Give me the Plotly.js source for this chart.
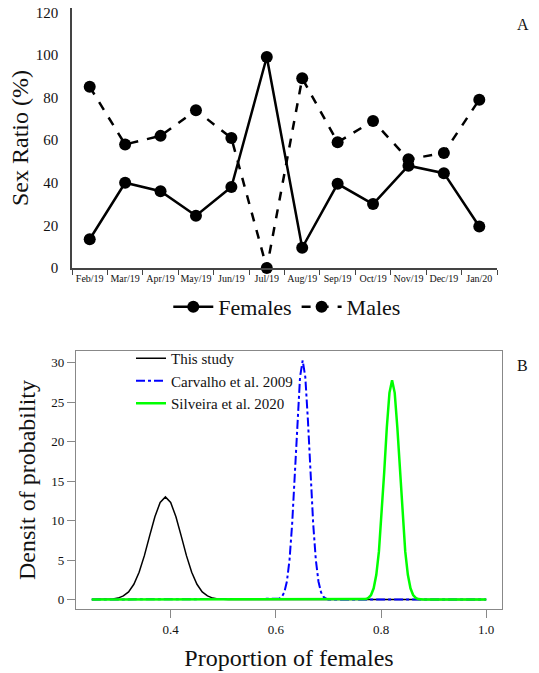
<!DOCTYPE html>
<html>
<head>
<meta charset="utf-8">
<script src="https://cdn.plot.ly/plotly-3.0.1.min.js"></script>
<style>html,body{margin:0;padding:0;background:#fff;}#chart{width:539px;height:673px;}</style>
</head>
<body>
<div id="chart"></div>
<script>
// Panel A data
var months = ['Feb/19','Mar/19','Apr/19','May/19','Jun/19','Jul/19','Aug/19','Sep/19','Oct/19','Nov/19','Dec/19','Jan/20'];
var females = [13.5, 40, 36, 24.5, 38, 99, 9.5, 39.5, 30, 48, 44.5, 19.5];
var males = [85, 58, 62, 74, 61, 0, 89, 59, 69, 51, 54, 79];

// Panel B data (density curves)
var studyX = [0.25,0.27,0.29,0.30,0.31,0.32,0.33,0.34,0.35,0.36,0.37,0.38,0.39,0.40,0.41,0.42,0.43,0.44,0.45,0.46,0.47,0.48,0.49,0.51,1.00];
var studyY = [0,0,0.06,0.18,0.47,0.97,1.93,3.45,5.56,8.07,10.5,12.3,13.0,12.3,10.5,8.07,5.56,3.45,1.93,0.97,0.47,0.18,0.06,0,0];
var carvX = [0.25,0.60,0.606,0.611,0.616,0.621,0.626,0.631,0.636,0.641,0.646,0.651,0.656,0.661,0.666,0.671,0.676,0.681,0.686,0.691,0.696,0.70,1.00];
var carvY = [0,0,0.09,0.31,0.90,2.29,5.04,9.6,15.9,22.7,28.2,30.3,28.2,22.7,15.9,9.6,5.04,2.29,0.90,0.31,0.09,0,0];
var silvX = [0.25,0.76,0.771,0.776,0.781,0.786,0.791,0.796,0.801,0.806,0.811,0.816,0.821,0.826,0.831,0.836,0.841,0.846,0.851,0.856,0.861,0.866,0.871,0.88,1.00];
var silvY = [0,0,0.06,0.20,0.57,1.42,3.13,6.1,10.5,16.1,21.8,26.2,27.8,26.2,21.8,16.1,10.5,6.1,3.13,1.42,0.57,0.20,0.06,0,0];

var serif = 'Liberation Serif';

var traces = [
  {x: months, y: females, name: 'Females', type: 'scatter', mode: 'lines+markers',
   line: {color: '#000', width: 2.5, dash: 'solid'}, marker: {color: '#000', size: 12},
   xaxis: 'x', yaxis: 'y', cliponaxis: false, legend: 'legend'},
  {x: months, y: males, name: 'Males', type: 'scatter', mode: 'lines+markers',
   line: {color: '#000', width: 2.5, dash: 'dash'}, marker: {color: '#000', size: 12},
   xaxis: 'x', yaxis: 'y', cliponaxis: false, legend: 'legend'},
  {x: studyX, y: studyY, name: 'This study', type: 'scatter', mode: 'lines',
   line: {color: '#000', width: 1.5}, xaxis: 'x2', yaxis: 'y2', legend: 'legend2'},
  {x: carvX, y: carvY, name: 'Carvalho et al. 2009', type: 'scatter', mode: 'lines',
   line: {color: '#0000ff', width: 2, dash: 'dashdot'}, xaxis: 'x2', yaxis: 'y2', legend: 'legend2'},
  {x: silvX, y: silvY, name: 'Silveira et al. 2020', type: 'scatter', mode: 'lines',
   line: {color: '#00ff00', width: 2.5}, xaxis: 'x2', yaxis: 'y2', legend: 'legend2'}
];

var layout = {
  width: 539, height: 673,
  margin: {l: 0, r: 0, t: 0, b: 0},
  paper_bgcolor: '#fff', plot_bgcolor: '#fff',
  font: {family: serif, color: '#111'},
  showlegend: true,
  xaxis: {
    domain: [72/539, 497/539], anchor: 'y', type: 'category',
    range: [-0.5, 11.5], showline: true, linecolor: '#444', linewidth: 1.5,
    ticks: 'outside', tickson: 'boundaries', ticklen: 5, tickcolor: '#444', tickangle: 0,
    tickfont: {size: 10, family: serif, color: '#111'}, showgrid: false, zeroline: false
  },
  yaxis: {
    domain: [1 - 268/673, 1 - 8/673], anchor: 'x', range: [0, 122],
    tickvals: [0, 20, 40, 60, 80, 100, 120], showline: true, linecolor: '#444', linewidth: 1.5,
    ticks: 'outside', ticklen: 9, tickcolor: 'rgba(0,0,0,0)',
    tickfont: {size: 15, family: serif, color: '#111'}, showgrid: false, zeroline: false,
    title: {text: 'Sex Ratio (%)', font: {size: 24, family: serif, color: '#111'}, standoff: 0}
  },
  xaxis2: {
    domain: [76/539, 502/539], anchor: 'y2', range: [0.22, 1.03],
    tickvals: [0.4, 0.6, 0.8, 1.0], ticktext: ['0.4', '0.6', '0.8', '1.0'],
    showline: true, mirror: true, linecolor: '#888', linewidth: 1.2,
    ticks: 'outside', ticklen: 8, tickcolor: '#888',
    tickfont: {size: 13, family: serif, color: '#111'}, showgrid: false, zeroline: false,
    title: {text: 'Proportion of females', font: {size: 24, family: serif, color: '#111'}, standoff: 13}
  },
  yaxis2: {
    domain: [1 - 609/673, 1 - 351/673], anchor: 'x2', range: [-1.2, 31.5],
    tickvals: [0, 5, 10, 15, 20, 25, 30],
    showline: true, mirror: true, linecolor: '#888', linewidth: 1.2,
    ticks: 'outside', ticklen: 8, tickcolor: '#888',
    tickfont: {size: 13, family: serif, color: '#111'}, showgrid: false, zeroline: false,
    title: {text: 'Densit of probability', font: {size: 24, family: serif, color: '#111'}, standoff: 8}
  },
  legend: {
    orientation: 'h', x: 0.533, xanchor: 'center', y: 1 - 307/673, yanchor: 'middle',
    font: {size: 22, family: serif, color: '#111'}, bgcolor: 'rgba(0,0,0,0)', itemwidth: 40
  },
  legend2: {
    orientation: 'v', x: 131/539, xanchor: 'left', y: 1 - 342/673, yanchor: 'top',
    font: {size: 15, family: serif, color: '#111'}, bgcolor: 'rgba(0,0,0,0)', tracegroupgap: 0
  },
  annotations: [
    {text: 'A', x: 523/539, y: 1 - 25/673, xref: 'paper', yref: 'paper', showarrow: false,
     xanchor: 'center', yanchor: 'middle', font: {size: 16, family: serif, color: '#111'}},
    {text: 'B', x: 522/539, y: 1 - 365/673, xref: 'paper', yref: 'paper', showarrow: false,
     xanchor: 'center', yanchor: 'middle', font: {size: 16, family: serif, color: '#111'}}
  ]
};

Plotly.newPlot('chart', traces, layout, {displayModeBar: false, responsive: false});
</script>
</body>
</html>
